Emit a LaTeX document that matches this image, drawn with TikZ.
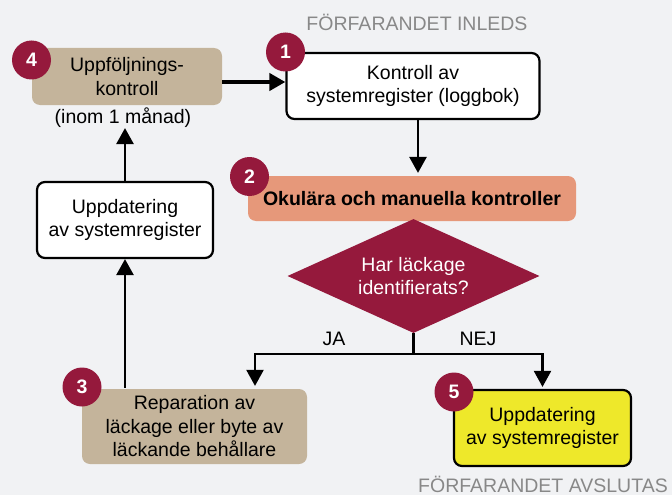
\documentclass[tikz,border=0pt]{standalone}
\usepackage{fontspec}
\setmainfont{Liberation Sans}
\usetikzlibrary{shapes.geometric,arrows.meta}

\definecolor{bgc}{RGB}{241,242,244}
\definecolor{tanc}{RGB}{196,180,155}
\definecolor{salmonc}{RGB}{230,152,122}
\definecolor{crimsonc}{RGB}{149,25,60}
\definecolor{yellowc}{RGB}{238,232,42}
\definecolor{headc}{RGB}{136,136,136}
\newcommand{\fsz}{\fontsize{19.5}{23.5}\selectfont}

\begin{document}
\begin{tikzpicture}[x=1pt,y=1pt,yscale=-1,xscale=1,
  box/.style={rounded corners=8pt, align=center, inner sep=0pt, font=\fsz, line width=2.2pt},
  badge/.style={circle, fill=crimsonc, text=white, inner sep=0pt, minimum size=39pt, font=\fsz\bfseries},
  head/.style={anchor=base, inner sep=0pt, text=headc, font=\fsz},
  tip/.style={-{Triangle[width=17pt,length=16pt]}, line width=2.6pt, shorten >=2pt}]
%set diagram to 672 x 495
\fill[bgc] (0,0) rectangle (672,495);
\useasboundingbox (0,0) rectangle (672,495);

% Text Node
\node[head] (start) at (417,30.5) {FÖRFARANDET INLEDS};
% Text Node
\node[head] (stop) at (543,492) {FÖRFARANDET AVSLUTAS};

%Shape: Rectangle [fol]
\node[box, fill=tanc, minimum width=190pt, minimum height=57pt] (fol) at (127,76.5) {Uppföljnings-\\kontroll};
% Text Node
\node[inner sep=0pt, font=\fsz] (mon) at (123,118) {(inom 1 månad)};
%Shape: Rectangle [kon]
\node[box, draw, fill=white, minimum width=253pt, minimum height=66pt] (kon) at (413,86) {Kontroll av\\systemregister (loggbok)};
%Shape: Rectangle [oku]
\node[box, fill=salmonc, font=\fsz\bfseries, minimum width=328pt, minimum height=45pt] (oku) at (412,198.5) {Okulära och manuella kontroller};
%Shape: Diamond [lck]
\node[diamond, aspect=2.21, fill=crimsonc, text=white, align=center, inner sep=0pt, minimum width=252pt, minimum height=114pt, font=\fsz] (lck) at (413.5,276) {Har läckage\\identifierats?};
%Shape: Rectangle [upd1]
\node[box, draw, fill=white, minimum width=176pt, minimum height=76pt] (upd1) at (125,220) {Uppdatering\\av systemregister};
%Shape: Rectangle [rep]
\node[box, fill=tanc, minimum width=225pt, minimum height=75pt] (rep) at (194.5,426.5) {Reparation av\\läckage eller byte av\\läckande behållare};
%Shape: Rectangle [upd2]
\node[box, draw, fill=yellowc, minimum width=177pt, minimum height=76pt] (upd2) at (542.5,428) {Uppdatering\\av systemregister};

%Shape: Circles
\node[badge] (n1) at (285.5,52) {1};
\node[badge] (n2) at (249.5,176.5) {2};
\node[badge] (n3) at (82,387) {3};
\node[badge] (n4) at (31.5,60) {4};
\node[badge] (n5) at (454,392) {5};

%Straight Lines
\coordinate (a4) at (222,82);
\draw[tip, line width=4pt, shorten >=0pt] (a4) -- (a4 -| kon.west);
\draw[tip] ([xshift=5pt]kon.south) -- ([xshift=5pt]kon.south |- oku.north);
\coordinate (ja) at (255,354);
\coordinate (split) at (lck.south |- ja);
\draw[line width=2.2pt] (lck.south) -- (split);
\draw[tip, line width=2.2pt] (split) -- (ja) -- (ja |- rep.north);
\draw[tip, line width=2.2pt] (split) -| (upd2.north);
\draw[tip, shorten >=0pt] (upd1.south |- rep.north) -- (upd1.south);
\draw[tip, shorten >=0pt] (upd1.north) -- (upd1.north |- mon.south);

% Text Node
\node[inner sep=0pt, font=\fsz] (jal) at (334,339) {JA};
% Text Node
\node[inner sep=0pt, font=\fsz] (nejl) at (478,339) {NEJ};

\end{tikzpicture}
\end{document}
